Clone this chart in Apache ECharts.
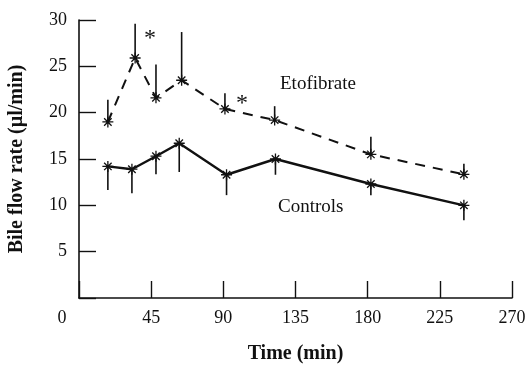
<!DOCTYPE html>
<html>
<head>
<meta charset="utf-8">
<script src="https://cdn.jsdelivr.net/npm/echarts@6/dist/echarts.min.js"></script>
<style>
  html, body { margin: 0; padding: 0; background: #fff; }
  #chart { width: 527px; height: 365px; }
</style>
</head>
<body>
<div id="chart"></div>
<script>
// time points (min)
const etoTimes = [18, 35, 48, 64, 91, 122, 182, 240]
const ctrlTimes = [18, 33, 48, 62.5, 92, 122.5, 182, 240]
// bile flow rate (µl/min)
const etoValues = [19.0, 25.9, 21.6, 23.5, 20.4, 19.2, 15.5, 13.35]
const ctrlValues = [14.2, 13.9, 15.3, 16.7, 13.3, 15.0, 12.3, 10.0]
// error bar ends (etofibrate up, controls down)
const etoErrTop = [21.4, 29.6, 25.2, 28.7, 22.1, 20.7, 17.4, 14.5]
const ctrlErrBottom = [11.65, 11.3, 13.35, 13.6, 11.1, 13.3, 11.1, 8.4]
const xTicks = [0, 45, 90, 135, 180, 225, 270]
const yTicks = [5, 10, 15, 20, 25, 30]

const serif = '"Liberation Serif", "DejaVu Serif", serif'
const star = 'path://M5,0L5,10M0,5L10,5M1.6,1.6L8.4,8.4M1.6,8.4L8.4,1.6'

const chart = echarts.init(document.getElementById('chart'))

function errBars(times, vals, ends) {
  return times.map((t, i) => [t, vals[i], ends[i]])
}

function renderErr(params, api) {
  const p1 = api.coord([api.value(0), api.value(1)])
  const p2 = api.coord([api.value(0), api.value(2)])
  return {
    type: 'line',
    shape: { x1: p1[0], y1: p1[1], x2: p2[0], y2: p2[1] },
    style: { stroke: '#111', lineWidth: 1.6 }
  }
}

const option = {
  animation: false,
  grid: { left: 79, right: 15, top: 20, bottom: 67, outerBoundsMode: 'none' },
  xAxis: {
    type: 'value',
    min: 0,
    max: 270,
    interval: 45,
    name: 'Time (min)',
    nameLocation: 'middle',
    nameGap: 46,
    nameTextStyle: { fontFamily: serif, fontSize: 20, fontWeight: 'bold', color: '#111' },
    axisLine: { lineStyle: { color: '#111', width: 1.6 } },
    axisTick: { inside: true, length: 17, lineStyle: { color: '#111', width: 1.4 } },
    splitLine: { show: false },
    axisLabel: {
      margin: 11,
      fontFamily: serif,
      fontSize: 18,
      color: '#111',
      formatter: v => (v === 0 ? '{z|0}' : xTicks.includes(v) ? String(v) : ''),
      rich: { z: { fontFamily: serif, fontSize: 18, color: '#111', padding: [0, 34, 0, 0] } }
    }
  },
  yAxis: {
    type: 'value',
    min: 0,
    max: 30,
    interval: 5,
    name: 'Bile flow rate (µl/min)',
    nameLocation: 'middle',
    nameGap: 52,
    nameRotate: 90,
    nameTextStyle: { fontFamily: serif, fontSize: 20, fontWeight: 'bold', color: '#111' },
    axisLine: { show: true, lineStyle: { color: '#111', width: 1.6 } },
    axisTick: { show: true, inside: true, length: 17, lineStyle: { color: '#111', width: 1.4 } },
    splitLine: { show: false },
    axisLabel: {
      margin: 12,
      fontFamily: serif,
      fontSize: 18,
      color: '#111',
      formatter: v => (yTicks.includes(v) ? String(v) : '')
    }
  },
  series: [
    {
      name: 'Etofibrate',
      type: 'line',
      data: etoTimes.map((t, i) => [t, etoValues[i]]),
      symbol: star,
      symbolSize: 11,
      itemStyle: { color: '#fff', borderColor: '#111', borderWidth: 1.3 },
      lineStyle: { color: '#111', width: 2, type: [10, 8] },
      z: 3
    },
    {
      name: 'Controls',
      type: 'line',
      data: ctrlTimes.map((t, i) => [t, ctrlValues[i]]),
      symbol: star,
      symbolSize: 11,
      itemStyle: { color: '#fff', borderColor: '#111', borderWidth: 1.3 },
      lineStyle: { color: '#111', width: 2.4 },
      z: 3
    },
    {
      type: 'custom',
      renderItem: renderErr,
      data: errBars(etoTimes, etoValues, etoErrTop),
      z: 2
    },
    {
      type: 'custom',
      renderItem: renderErr,
      data: errBars(ctrlTimes, ctrlValues, ctrlErrBottom),
      z: 2
    }
  ],
  graphic: [
    { type: 'text', left: 280, top: 75, style: { text: 'Etofibrate', font: '19px ' + serif, fill: '#111' } },
    { type: 'text', left: 278, top: 198, style: { text: 'Controls', font: '19px ' + serif, fill: '#111' } },
    { type: 'text', left: 144, top: 27, style: { text: '*', font: '24px ' + serif, fill: '#111' } },
    { type: 'text', left: 236, top: 92, style: { text: '*', font: '24px ' + serif, fill: '#111' } }
  ]
}

chart.setOption(option)
</script>
</body>
</html>
